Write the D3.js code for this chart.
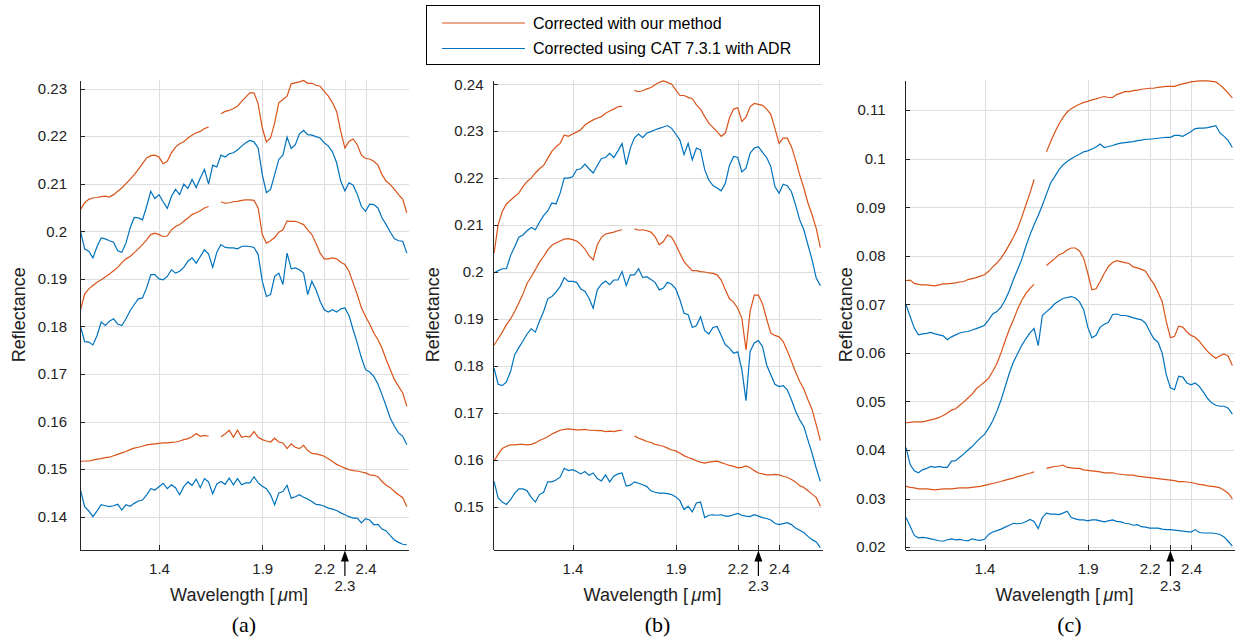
<!DOCTYPE html>
<html lang="en">
<head>
<meta charset="utf-8">
<title>Reflectance spectra</title>
<script src="https://d3js.org/d3.v7.min.js"></script>
<style>
  body { margin: 0; background: #fff; }
  text { font-family: 'Liberation Sans', Arial, Helvetica, sans-serif; fill: #222; }
  .grid line { stroke: #dedede; stroke-width: 1; shape-rendering: crispEdges; }
  .axis path, .axis line { stroke: #262626; stroke-width: 1; shape-rendering: crispEdges; }
  .axis text { font-size: 15px; fill: #222; }
  .ours { fill: none; stroke: #D95319; stroke-width: 1.2; }
  .cat { fill: none; stroke: #0072BD; stroke-width: 1.2; }
</style>
</head>
<body>
<svg id="chart" width="1236" height="638"></svg>
<script>
// wavelength grid (um)
var wavelengths = [1.02,1.04,1.06,1.08,1.10,1.12,1.14,1.16,1.18,1.20,
  1.22,1.24,1.26,1.28,1.30,1.32,1.34,1.36,1.38,1.40,
  1.42,1.44,1.46,1.48,1.50,1.52,1.54,1.56,1.58,1.60,
  1.62,1.64,1.66,1.68,1.70,1.72,1.74,1.76,1.78,1.80,
  1.82,1.84,1.86,1.88,1.90,1.92,1.94,1.96,1.98,2.00,
  2.02,2.04,2.06,2.08,2.10,2.12,2.14,2.16,2.18,2.20,
  2.22,2.24,2.26,2.28,2.30,2.32,2.34,2.36,2.38,2.40,
  2.42,2.44,2.46,2.48,2.50,2.52,2.54,2.56,2.58,2.60];

var xTicks = [1.4, 1.9, 2.2, 2.3, 2.4];
var xTickLabels = ["1.4", "1.9", "2.2", "", "2.4"];
var markedWavelength = 2.3;

var aTicks = [0.14,0.15,0.16,0.17,0.18,0.19,0.20,0.21,0.22,0.23];
var bTicks = [0.15,0.16,0.17,0.18,0.19,0.20,0.21,0.22,0.23,0.24];
var cTicks = [0.02,0.03,0.04,0.05,0.06,0.07,0.08,0.09,0.10,0.11];

var legendLabels = ["Corrected with our method", "Corrected using CAT 7.3.1 with ADR"];
var panelNames = ["(a)", "(b)", "(c)"];

// panel (a)
var aOurs1 = [0.2046,0.2060,0.2067,0.2070,0.2071,0.2073,0.2074,0.2072,0.2077,0.2084,
  0.2091,0.2100,0.2109,0.2119,0.2130,0.2142,0.2154,0.2159,0.2160,0.2156,
  0.2142,0.2147,0.2165,0.2177,0.2184,0.2188,0.2196,0.2202,0.2207,0.2210,
  0.2216,0.2219,null,null,0.2247,0.2252,0.2254,0.2258,0.2263,0.2273,
  0.2282,0.2291,0.2291,0.2268,0.2217,0.2188,0.2196,0.2228,0.2270,0.2277,
  0.2284,0.2310,0.2312,0.2314,0.2317,0.2311,0.2311,0.2307,0.2305,0.2294,
  0.2284,0.2270,0.2252,0.2210,0.2175,0.2189,0.2194,0.2182,0.2160,0.2153,
  0.2152,0.2147,0.2139,0.2119,0.2105,0.2098,0.2088,0.2077,0.2067,0.2039];
var aCat1 = [0.2000,0.1963,0.1958,0.1944,0.1968,0.1986,0.1984,0.1980,0.1977,0.1959,
  0.1956,0.1975,0.2007,0.2029,0.2028,0.2024,0.2052,0.2084,0.2069,0.2077,
  0.2062,0.2048,0.2073,0.2088,0.2077,0.2099,0.2090,0.2109,0.2092,0.2112,
  0.2130,0.2099,0.2139,0.2135,0.2160,0.2156,0.2163,0.2165,0.2171,0.2179,
  0.2186,0.2191,0.2188,0.2175,0.2119,0.2081,0.2088,0.2119,0.2151,0.2160,
  0.2198,0.2174,0.2182,0.2205,0.2212,0.2203,0.2202,0.2199,0.2196,0.2186,
  0.2179,0.2167,0.2144,0.2105,0.2085,0.2102,0.2097,0.2078,0.2052,0.2042,
  0.2057,0.2056,0.2049,0.2028,0.2014,0.1998,0.1984,0.1980,0.1979,0.1954];
var aOurs2 = [0.1835,0.1868,0.1879,0.1886,0.1893,0.1898,0.1904,0.1910,0.1917,0.1924,
  0.1934,0.1942,0.1947,0.1955,0.1963,0.1972,0.1982,0.1993,0.1996,0.1993,
  0.1989,0.1990,0.2003,0.2010,0.2014,0.2021,0.2028,0.2035,0.2039,0.2043,
  0.2049,0.2052,null,null,0.2062,0.2059,0.2060,0.2062,0.2063,0.2065,
  0.2066,0.2066,0.2065,0.2049,0.1993,0.1975,0.1980,0.1987,0.1998,0.2003,
  0.2022,0.2021,0.2021,0.2018,0.2014,0.2003,0.1993,0.1975,0.1954,0.1942,
  0.1942,0.1944,0.1942,0.1935,0.1930,0.1916,0.1891,0.1867,0.1839,0.1821,
  0.1805,0.1786,0.1772,0.1754,0.1730,0.1709,0.1688,0.1674,0.1660,0.1632];
var aCat2 = [0.1800,0.1768,0.1767,0.1761,0.1781,0.1809,0.1802,0.1811,0.1816,0.1805,
  0.1802,0.1816,0.1833,0.1846,0.1858,0.1860,0.1881,0.1909,0.1909,0.1900,
  0.1898,0.1905,0.1919,0.1912,0.1916,0.1924,0.1937,0.1944,0.1933,0.1947,
  0.1961,0.1952,0.1924,0.1956,0.1972,0.1966,0.1965,0.1965,0.1963,0.1968,
  0.1969,0.1968,0.1966,0.1951,0.1895,0.1863,0.1867,0.1905,0.1912,0.1888,
  0.1954,0.1921,0.1923,0.1919,0.1912,0.1867,0.1895,0.1877,0.1853,0.1835,
  0.1830,0.1835,0.1830,0.1837,0.1839,0.1823,0.1793,0.1765,0.1734,0.1709,
  0.1704,0.1695,0.1679,0.1656,0.1632,0.1607,0.1590,0.1576,0.1569,0.1551];
var aOurs3 = [0.1516,0.1517,0.1517,0.1519,0.1521,0.1522,0.1524,0.1525,0.1528,0.1531,
  0.1534,0.1537,0.1541,0.1544,0.1546,0.1548,0.1551,0.1552,0.1553,0.1554,
  0.1555,0.1555,0.1556,0.1557,0.1559,0.1562,0.1564,0.1568,0.1575,0.1569,
  0.1571,0.1569,null,null,0.1568,0.1574,0.1582,0.1567,0.1582,0.1567,
  0.1569,0.1568,0.1579,0.1567,0.1562,0.1559,0.1557,0.1565,0.1557,0.1555,
  0.1543,0.1553,0.1546,0.1543,0.1550,0.1539,0.1533,0.1532,0.1530,0.1527,
  0.1522,0.1516,0.1510,0.1506,0.1502,0.1499,0.1497,0.1496,0.1494,0.1492,
  0.1488,0.1487,0.1484,0.1474,0.1466,0.1461,0.1453,0.1446,0.1440,0.1421];
var aCat3 = [0.1456,0.1421,0.1412,0.1400,0.1412,0.1425,0.1423,0.1421,0.1423,0.1426,
  0.1414,0.1425,0.1422,0.1428,0.1433,0.1435,0.1446,0.1459,0.1456,0.1463,
  0.1470,0.1459,0.1467,0.1461,0.1446,0.1463,0.1473,0.1466,0.1479,0.1461,
  0.1480,0.1473,0.1448,0.1469,0.1474,0.1468,0.1481,0.1467,0.1480,0.1467,
  0.1471,0.1471,0.1484,0.1471,0.1464,0.1459,0.1446,0.1425,0.1450,0.1453,
  0.1466,0.1439,0.1442,0.1446,0.1441,0.1437,0.1432,0.1426,0.1425,0.1422,
  0.1418,0.1416,0.1413,0.1408,0.1404,0.1400,0.1397,0.1397,0.1387,0.1396,
  0.1393,0.1383,0.1384,0.1374,0.1370,0.1360,0.1351,0.1346,0.1342,0.1341];

// panel (b)
var bOurs1 = [0.2040,0.2101,0.2129,0.2145,0.2153,0.2161,0.2168,0.2182,0.2193,0.2200,
  0.2211,0.2220,0.2227,0.2242,0.2257,0.2267,0.2274,0.2292,0.2289,0.2294,
  0.2298,0.2303,0.2313,0.2319,0.2324,0.2328,0.2331,0.2338,0.2343,0.2347,
  0.2352,0.2353,null,null,0.2387,0.2384,0.2386,0.2390,0.2393,0.2399,
  0.2404,0.2407,0.2404,0.2400,0.2388,0.2376,0.2376,0.2372,0.2369,0.2356,
  0.2347,0.2331,0.2317,0.2308,0.2299,0.2289,0.2296,0.2328,0.2347,0.2350,
  0.2321,0.2330,0.2352,0.2359,0.2357,0.2355,0.2347,0.2336,0.2306,0.2274,
  0.2285,0.2285,0.2267,0.2239,0.2207,0.2179,0.2147,0.2122,0.2093,0.2052];
var bCat1 = [0.1998,0.2003,0.2007,0.2007,0.2035,0.2054,0.2074,0.2079,0.2088,0.2095,
  0.2090,0.2106,0.2120,0.2130,0.2147,0.2145,0.2168,0.2200,0.2200,0.2203,
  0.2218,0.2220,0.2230,0.2220,0.2211,0.2227,0.2242,0.2244,0.2253,0.2244,
  0.2258,0.2274,0.2228,0.2264,0.2286,0.2294,0.2286,0.2296,0.2299,0.2303,
  0.2306,0.2309,0.2312,0.2306,0.2294,0.2281,0.2250,0.2274,0.2239,0.2264,
  0.2260,0.2218,0.2196,0.2184,0.2179,0.2173,0.2189,0.2227,0.2246,0.2244,
  0.2213,0.2221,0.2253,0.2264,0.2267,0.2255,0.2244,0.2225,0.2182,0.2168,
  0.2187,0.2184,0.2171,0.2143,0.2111,0.2090,0.2058,0.2026,0.1987,0.1971];
var bOurs2 = [0.1844,0.1858,0.1872,0.1888,0.1900,0.1916,0.1934,0.1953,0.1976,0.1990,
  0.2005,0.2021,0.2033,0.2047,0.2057,0.2062,0.2066,0.2070,0.2071,0.2069,
  0.2066,0.2059,0.2049,0.2035,0.2026,0.2058,0.2074,0.2081,0.2083,0.2085,
  0.2088,0.2090,null,null,0.2092,0.2089,0.2090,0.2088,0.2085,0.2075,
  0.2058,0.2065,0.2079,0.2074,0.2058,0.2040,0.2022,0.2012,0.2003,0.2003,
  0.2001,0.2000,0.1998,0.1997,0.1994,0.1983,0.1962,0.1943,0.1936,0.1923,
  0.1902,0.1834,0.1916,0.1951,0.1951,0.1932,0.1900,0.1870,0.1865,0.1862,
  0.1852,0.1832,0.1810,0.1787,0.1767,0.1751,0.1728,0.1707,0.1675,0.1641];
var bCat2 = [0.1795,0.1761,0.1758,0.1766,0.1788,0.1824,0.1839,0.1853,0.1868,0.1879,
  0.1872,0.1895,0.1916,0.1943,0.1948,0.1957,0.1969,0.1988,0.1980,0.1980,
  0.1978,0.1964,0.1959,0.1944,0.1923,0.1962,0.1974,0.1981,0.1973,0.1983,
  0.1983,0.2001,0.1971,0.1994,0.1994,0.2007,0.1988,0.1990,0.1984,0.1978,
  0.1962,0.1966,0.1978,0.1974,0.1964,0.1941,0.1912,0.1909,0.1882,0.1886,
  0.1905,0.1875,0.1868,0.1882,0.1884,0.1865,0.1845,0.1838,0.1827,0.1830,
  0.1792,0.1726,0.1831,0.1849,0.1854,0.1841,0.1802,0.1781,0.1761,0.1756,
  0.1758,0.1749,0.1728,0.1704,0.1685,0.1671,0.1642,0.1614,0.1582,0.1554];
var bOurs3 = [0.1597,0.1612,0.1624,0.1629,0.1632,0.1632,0.1633,0.1633,0.1632,0.1633,
  0.1636,0.1641,0.1645,0.1649,0.1655,0.1659,0.1663,0.1665,0.1666,0.1665,
  0.1664,0.1664,0.1665,0.1663,0.1663,0.1662,0.1662,0.1660,0.1661,0.1660,
  0.1662,0.1663,null,null,0.1651,0.1646,0.1643,0.1639,0.1637,0.1633,
  0.1631,0.1629,0.1625,0.1621,0.1619,0.1614,0.1609,0.1605,0.1602,0.1598,
  0.1595,0.1593,0.1595,0.1596,0.1597,0.1594,0.1591,0.1588,0.1586,0.1583,
  0.1584,0.1587,0.1583,0.1577,0.1572,0.1570,0.1568,0.1568,0.1569,0.1568,
  0.1565,0.1563,0.1558,0.1553,0.1545,0.1541,0.1534,0.1527,0.1520,0.1501];
var bCat3 = [0.1554,0.1519,0.1510,0.1505,0.1515,0.1529,0.1538,0.1538,0.1534,0.1520,
  0.1510,0.1526,0.1531,0.1553,0.1553,0.1557,0.1563,0.1582,0.1577,0.1579,
  0.1575,0.1570,0.1575,0.1567,0.1572,0.1560,0.1555,0.1568,0.1553,0.1565,
  0.1570,0.1572,0.1544,0.1546,0.1553,0.1550,0.1547,0.1543,0.1534,0.1531,
  0.1529,0.1529,0.1528,0.1526,0.1521,0.1513,0.1494,0.1501,0.1489,0.1508,
  0.1510,0.1477,0.1482,0.1483,0.1482,0.1483,0.1480,0.1480,0.1483,0.1486,
  0.1482,0.1480,0.1479,0.1483,0.1480,0.1477,0.1475,0.1472,0.1465,0.1462,
  0.1464,0.1466,0.1462,0.1455,0.1450,0.1445,0.1437,0.1430,0.1425,0.1413];

// panel (c)
var cOurs1 = [0.0749,0.0750,0.0743,0.0741,0.0740,0.0740,0.0739,0.0738,0.0740,0.0742,
  0.0742,0.0743,0.0744,0.0746,0.0747,0.0751,0.0753,0.0755,0.0758,0.0761,
  0.0768,0.0777,0.0785,0.0795,0.0808,0.0823,0.0838,0.0856,0.0879,0.0904,
  0.0929,0.0957,null,null,0.1014,0.1035,0.1054,0.1071,0.1085,0.1096,
  0.1103,0.1108,0.1112,0.1116,0.1118,0.1121,0.1123,0.1126,0.1128,0.1126,
  0.1126,0.1132,0.1135,0.1138,0.1138,0.1140,0.1141,0.1143,0.1144,0.1145,
  0.1145,0.1147,0.1148,0.1149,0.1149,0.1149,0.1152,0.1154,0.1156,0.1158,
  0.1159,0.1160,0.1160,0.1160,0.1159,0.1158,0.1152,0.1144,0.1135,0.1125];
var cCat1 = [0.0699,0.0675,0.0651,0.0637,0.0639,0.0640,0.0642,0.0639,0.0637,0.0635,
  0.0627,0.0633,0.0637,0.0641,0.0643,0.0644,0.0647,0.0650,0.0653,0.0657,
  0.0668,0.0680,0.0685,0.0694,0.0709,0.0728,0.0751,0.0771,0.0792,0.0819,
  0.0843,0.0864,0.0883,0.0904,0.0927,0.0950,0.0963,0.0977,0.0987,0.0994,
  0.1000,0.1005,0.1009,0.1014,0.1016,0.1020,0.1024,0.1030,0.1023,0.1025,
  0.1027,0.1030,0.1032,0.1033,0.1034,0.1035,0.1037,0.1038,0.1040,0.1040,
  0.1041,0.1042,0.1043,0.1044,0.1044,0.1048,0.1048,0.1046,0.1051,0.1056,
  0.1062,0.1063,0.1063,0.1064,0.1066,0.1068,0.1053,0.1046,0.1037,0.1023];
var cOurs2 = [0.0456,0.0457,0.0458,0.0458,0.0458,0.0460,0.0462,0.0464,0.0467,0.0471,
  0.0476,0.0482,0.0485,0.0492,0.0499,0.0507,0.0515,0.0526,0.0533,0.0540,
  0.0548,0.0562,0.0578,0.0600,0.0625,0.0648,0.0668,0.0690,0.0708,0.0722,
  0.0733,0.0741,null,null,0.0780,0.0787,0.0794,0.0802,0.0805,0.0812,
  0.0816,0.0816,0.0810,0.0795,0.0764,0.0730,0.0732,0.0747,0.0764,0.0778,
  0.0786,0.0790,0.0788,0.0786,0.0784,0.0777,0.0775,0.0772,0.0768,0.0754,
  0.0742,0.0725,0.0706,0.0665,0.0631,0.0634,0.0655,0.0653,0.0643,0.0636,
  0.0632,0.0624,0.0613,0.0603,0.0595,0.0589,0.0594,0.0598,0.0593,0.0574];
var cCat2 = [0.0405,0.0370,0.0357,0.0353,0.0359,0.0362,0.0366,0.0364,0.0366,0.0364,
  0.0364,0.0377,0.0378,0.0385,0.0392,0.0400,0.0407,0.0416,0.0425,0.0432,
  0.0445,0.0460,0.0480,0.0503,0.0530,0.0558,0.0581,0.0598,0.0615,0.0629,
  0.0641,0.0650,0.0615,0.0677,0.0685,0.0692,0.0701,0.0707,0.0712,0.0714,
  0.0716,0.0713,0.0705,0.0689,0.0653,0.0631,0.0636,0.0653,0.0659,0.0663,
  0.0679,0.0680,0.0677,0.0677,0.0675,0.0672,0.0670,0.0668,0.0661,0.0644,
  0.0629,0.0622,0.0600,0.0555,0.0528,0.0524,0.0552,0.0550,0.0538,0.0534,
  0.0538,0.0531,0.0519,0.0506,0.0497,0.0492,0.0490,0.0490,0.0486,0.0474];
var cOurs3 = [0.0325,0.0323,0.0322,0.0320,0.0320,0.0320,0.0319,0.0318,0.0319,0.0320,
  0.0320,0.0320,0.0321,0.0322,0.0322,0.0322,0.0323,0.0324,0.0325,0.0327,
  0.0329,0.0331,0.0333,0.0335,0.0338,0.0340,0.0342,0.0345,0.0347,0.0350,
  0.0352,0.0355,null,null,0.0362,0.0364,0.0366,0.0367,0.0369,0.0364,
  0.0363,0.0362,0.0362,0.0359,0.0358,0.0357,0.0356,0.0355,0.0353,0.0353,
  0.0353,0.0351,0.0350,0.0349,0.0348,0.0348,0.0346,0.0345,0.0344,0.0343,
  0.0342,0.0341,0.0340,0.0339,0.0338,0.0337,0.0335,0.0335,0.0334,0.0333,
  0.0331,0.0329,0.0328,0.0326,0.0325,0.0324,0.0322,0.0317,0.0311,0.0300];
var cCat3 = [0.0261,0.0243,0.0224,0.0219,0.0220,0.0219,0.0217,0.0215,0.0213,0.0212,
  0.0215,0.0217,0.0215,0.0216,0.0214,0.0213,0.0217,0.0215,0.0214,0.0216,
  0.0226,0.0231,0.0234,0.0237,0.0241,0.0245,0.0249,0.0248,0.0249,0.0252,
  0.0257,0.0253,0.0238,0.0261,0.0270,0.0268,0.0268,0.0267,0.0270,0.0274,
  0.0261,0.0258,0.0256,0.0256,0.0254,0.0256,0.0256,0.0254,0.0252,0.0254,
  0.0256,0.0253,0.0252,0.0249,0.0248,0.0245,0.0246,0.0242,0.0241,0.0239,
  0.0239,0.0239,0.0237,0.0236,0.0236,0.0235,0.0234,0.0233,0.0232,0.0231,
  0.0236,0.0230,0.0229,0.0229,0.0229,0.0228,0.0226,0.0221,0.0212,0.0202];

var ORANGE = "#D95319", BLUE = "#0072BD";
var plotTop = 80, plotBottom = 549.5, plotW = 329;

var panels = [
  { name: panelNames[0], left: 79.5, pad: 12.5, titleX: 18.5, yDomain: [0.1331, 0.2318], yTicks: aTicks,
    ours: [aOurs1, aOurs2, aOurs3], cat: [aCat1, aCat2, aCat3] },
  { name: panelNames[1], left: 493, pad: 9.5, titleX: 433, yDomain: [0.1409, 0.2409], yTicks: bTicks,
    ours: [bOurs1, bOurs2, bOurs3], cat: [bCat1, bCat2, bCat3] },
  { name: panelNames[2], left: 905, pad: 19.5, titleX: 845.5, yDomain: [0.0195, 0.1162], yTicks: cTicks,
    ours: [cOurs1, cOurs2, cOurs3], cat: [cCat1, cCat2, cCat3] }
];

var svg = d3.select("#chart");

function drawPanel(p) {
  var x = d3.scaleLinear().domain([1.015, 2.608]).range([p.left, p.left + plotW]);
  var y = d3.scaleLinear().domain(p.yDomain).range([plotBottom, plotTop]);
  var g = svg.append("g");

  var grid = g.append("g").attr("class", "grid");
  grid.selectAll(".h").data(p.yTicks).enter().append("line")
      .attr("x1", p.left).attr("x2", p.left + plotW)
      .attr("y1", function(d) { return Math.round(y(d)) + 0.5; })
      .attr("y2", function(d) { return Math.round(y(d)) + 0.5; });
  grid.selectAll(".v").data(xTicks).enter().append("line")
      .attr("y1", plotTop).attr("y2", plotBottom)
      .attr("x1", function(d) { return Math.round(x(d)) + 0.5; })
      .attr("x2", function(d) { return Math.round(x(d)) + 0.5; });

  var line = d3.line()
      .defined(function(d) { return d != null; })
      .x(function(d, i) { return x(wavelengths[i]); })
      .y(function(d) { return y(d); });

  p.ours.forEach(function(s) {
    g.append("path").attr("class", "ours").attr("d", line(s));
  });
  p.cat.forEach(function(s) {
    g.append("path").attr("class", "cat").attr("d", line(s));
  });

  g.append("g").attr("class", "axis")
      .attr("transform", "translate(" + p.left + ",0)")
      .call(d3.axisLeft(y).tickValues(p.yTicks).tickSize(-5).tickSizeOuter(0)
        .tickPadding(p.pad).tickFormat(function(d) { return String(+d.toFixed(2)); }));

  g.append("g").attr("class", "axis")
      .attr("transform", "translate(0," + plotBottom + ")")
      .call(d3.axisBottom(x).tickValues(xTicks).tickSize(-5).tickSizeOuter(0)
        .tickPadding(14).tickFormat(function(d, i) { return xTickLabels[i]; }));

  g.selectAll(".axis text").attr("font-family", null).attr("font-size", 15);

  // arrow marking 2.3 um
  var ax = x(markedWavelength);
  g.append("line").attr("x1", ax).attr("x2", ax).attr("y1", 576).attr("y2", 558)
      .attr("stroke", "#000").attr("stroke-width", 1.2);
  g.append("path")
      .attr("d", "M" + ax + "," + (plotBottom + 1) + "L" + (ax - 4) + "," + (plotBottom + 12) + "L" + (ax + 4) + "," + (plotBottom + 12) + "Z")
      .attr("fill", "#000");
  g.append("text").attr("x", ax).attr("y", 590.5).attr("text-anchor", "middle")
      .attr("font-size", 15).text(String(markedWavelength));

  var xt = g.append("text").attr("x", p.left + plotW / 2 - 5).attr("y", 601)
      .attr("text-anchor", "middle").attr("font-size", 18);
  xt.append("tspan").text("Wavelength [\u2009");
  xt.append("tspan").attr("font-style", "italic").text("\u03bc");
  xt.append("tspan").text("m]");

  g.append("text")
      .attr("transform", "translate(" + p.titleX + "," + ((plotTop + plotBottom) / 2) + ")rotate(-90)")
      .attr("text-anchor", "middle").attr("dy", "0.35em").attr("font-size", 18)
      .text("Reflectance");

  g.append("text").attr("x", p.left + plotW / 2).attr("y", 632)
      .attr("text-anchor", "middle").attr("font-size", 22)
      .style("font-family", "'Liberation Serif', 'Times New Roman', serif")
      .style("fill", "#000")
      .text(p.name);
}

panels.forEach(drawPanel);

// legend
var legend = svg.append("g");
legend.append("rect").attr("x", 426.5).attr("y", 5.5).attr("width", 393).attr("height", 59)
    .attr("fill", "#fff").attr("stroke", "#000").attr("stroke-width", 1);
legendLabels.forEach(function(lbl, i) {
  var ly = i === 0 ? 23 : 48.5;
  legend.append("line").attr("x1", 442).attr("x2", 525).attr("y1", ly).attr("y2", ly)
      .attr("stroke", i === 0 ? ORANGE : BLUE).attr("stroke-width", 1.2);
  legend.append("text").attr("x", 533).attr("y", ly).attr("dy", "0.35em")
      .attr("font-size", 16).style("fill", "#000").text(lbl);
});
</script>
</body>
</html>
